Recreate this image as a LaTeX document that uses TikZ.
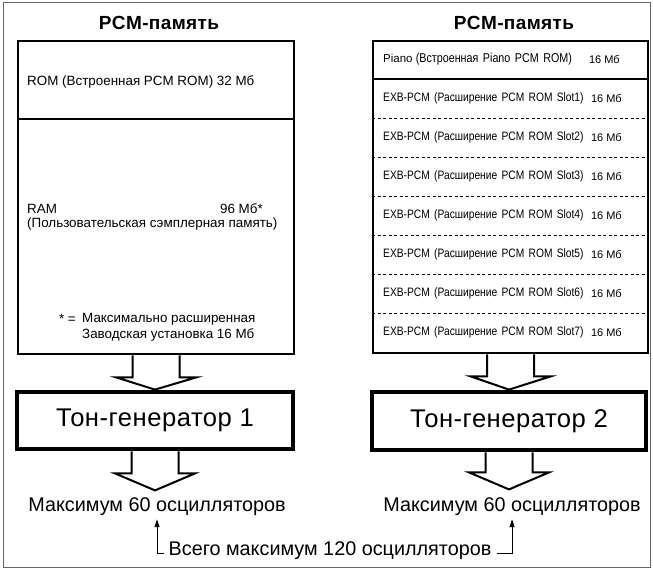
\documentclass[tikz,border=0pt]{standalone}
\usepackage{fontspec}
\setmainfont{Liberation Sans}
\newfontfamily\narrowfont[FakeStretch=0.84,WordSpace=1.5]{Liberation Sans}
\newfontfamily\widefont[LetterSpace=2]{Liberation Sans}
\usetikzlibrary{calc,arrows.meta}
\begin{document}
\begin{tikzpicture}[x=1pt,y=-1pt,
  outerframe/.style={draw=black!60, line width=0.9pt},
  cellbox/.style={draw, line width=2.4pt, inner sep=0pt, anchor=north west},
  genbox/.style={draw, line width=4.8pt, inner sep=0pt, font=\widefont\fontsize{25.6}{28}\selectfont},
  titletxt/.style={font=\widefont\bfseries\fontsize{19}{22}\selectfont, inner sep=0pt},
  bodytxt/.style={font=\fontsize{13.4}{16}\selectfont, inner sep=0pt, anchor=west},
  rowtxt/.style={font=\narrowfont\fontsize{12.2}{14}\selectfont, inner sep=0pt, anchor=west},
  sizetxt/.style={font=\fontsize{11}{13}\selectfont, inner sep=0pt, anchor=east},
  maxtxt/.style={font=\fontsize{19.8}{23}\selectfont, inner sep=0pt},
  hollow/.style={draw, fill=white, line width=2pt, line join=miter},
  divider/.style={line width=2.4pt},
  dashdiv/.style={line width=1pt, dash pattern=on 3pt off 2.5pt},
  pointer/.style={line width=1pt, -{Triangle[width=5pt,length=8pt]}}
]
\useasboundingbox (0,0) rectangle (653,570);
\draw[outerframe] (3,2) rectangle (650,567);

% titles
\node[titletxt] (title1) at (159,23) {PCM-память};
\node[titletxt] (title2) at (514,23) {PCM-память};

% left memory
\node[cellbox, minimum width=276pt, minimum height=78pt] (rom) at (17,40) {};
\node[cellbox, minimum width=276pt, minimum height=235pt] (ram) at (17,118) {};
\node[bodytxt] (romtxt) at (27,82) {ROM (Встроенная PCM ROM) 32 Мб};
\node[bodytxt] (ramtxt) at (27,209) {RAM};
\node[bodytxt, anchor=east] (ramsize) at (263,209) {96 Мб*};
\node[bodytxt] (ramdesc) at (27,224) {(Пользовательская сэмплерная память)};
\node[bodytxt, anchor=east] (star) at (76,319) {* =};
\node[bodytxt] (note1) at (82,319) {Максимально расширенная};
\node[bodytxt] (note2) at (82,335) {Заводская установка 16 Мб};

% right memory
\node[cellbox, minimum width=275pt, minimum height=312pt] (rbox) at (372,40) {};
\draw[divider] (372,79) -- (647,79);
\foreach \k in {2,...,7} {
  \draw[dashdiv] (372,40+39*\k) -- (647,40+39*\k);
}
\node[sizetxt, anchor=west, font=\fontsize{11.5}{13}\selectfont] (piano) at (383,59.5) {Piano {\narrowfont\fontsize{12.8}{14}\selectfont (Встроенная Piano PCM ROM)}};
\node[sizetxt] (pianosize) at (620,59.5) {16 Мб};
\foreach \k in {1,...,7} {
  \node[rowtxt] (exb\k) at (383,59.5+39*\k) {EXB-PCM (Расширение PCM ROM Slot\k)};
  \node[sizetxt] (exbsize\k) at (622,59.5+39*\k) {16 Мб};
}

% tone generators
\node[genbox, minimum width=276pt, minimum height=57pt] (tg1) at (155,420.5) {Тон-генератор 1};
\node[genbox, minimum width=274pt, minimum height=58pt] (tg2) at (509,421) {Тон-генератор 2};

% hollow arrows into generators
\draw[hollow] ($(ram.south)+(-23.5,0)$) -- ($(ram.south)+(-23.5,22)$) -- ($(ram.south)+(-40,22)$)
  -- (tg1.north) -- ($(ram.south)+(40,22)$) -- ($(ram.south)+(23.5,22)$) -- ($(ram.south)+(23.5,0)$);
\draw[hollow] ($(rbox.south)+(-23.5,0)$) -- ($(rbox.south)+(-23.5,22)$) -- ($(rbox.south)+(-40,22)$)
  -- (tg2.north) -- ($(rbox.south)+(40,22)$) -- ($(rbox.south)+(23.5,22)$) -- ($(rbox.south)+(23.5,0)$);

% outputs
\node[maxtxt] (max1) at (157,507) {Максимум 60 осцилляторов};
\node[maxtxt] (max2) at (512,507) {Максимум 60 осцилляторов};
\coordinate (tip1) at ($(tg1.south)+(0,39)$);
\coordinate (tip2) at ($(tg2.south)+(0,37)$);
\draw[hollow] ($(tg1.south)+(-23.5,0)$) -- ($(tg1.south)+(-23.5,22)$) -- ($(tg1.south)+(-40,22)$)
  -- (tip1) -- ($(tg1.south)+(40,22)$) -- ($(tg1.south)+(23.5,22)$) -- ($(tg1.south)+(23.5,0)$);
\draw[hollow] ($(tg2.south)+(-23.5,0)$) -- ($(tg2.south)+(-23.5,20)$) -- ($(tg2.south)+(-40,20)$)
  -- (tip2) -- ($(tg2.south)+(40,20)$) -- ($(tg2.south)+(23.5,20)$) -- ($(tg2.south)+(23.5,0)$);

% total
\node[maxtxt, inner xsep=5pt] (total) at (330,551) {Всего максимум 120 осцилляторов};
\coordinate (up1) at ($(max1.south)+(0,3)$);
\coordinate (up2) at ($(max2.south)+(0,3)$);
\draw[pointer] ($(total.west)+(0,2)$) -| (up1);
\draw[pointer] ($(total.east)+(0,2)$) -| (up2);
\end{tikzpicture}
\end{document}
